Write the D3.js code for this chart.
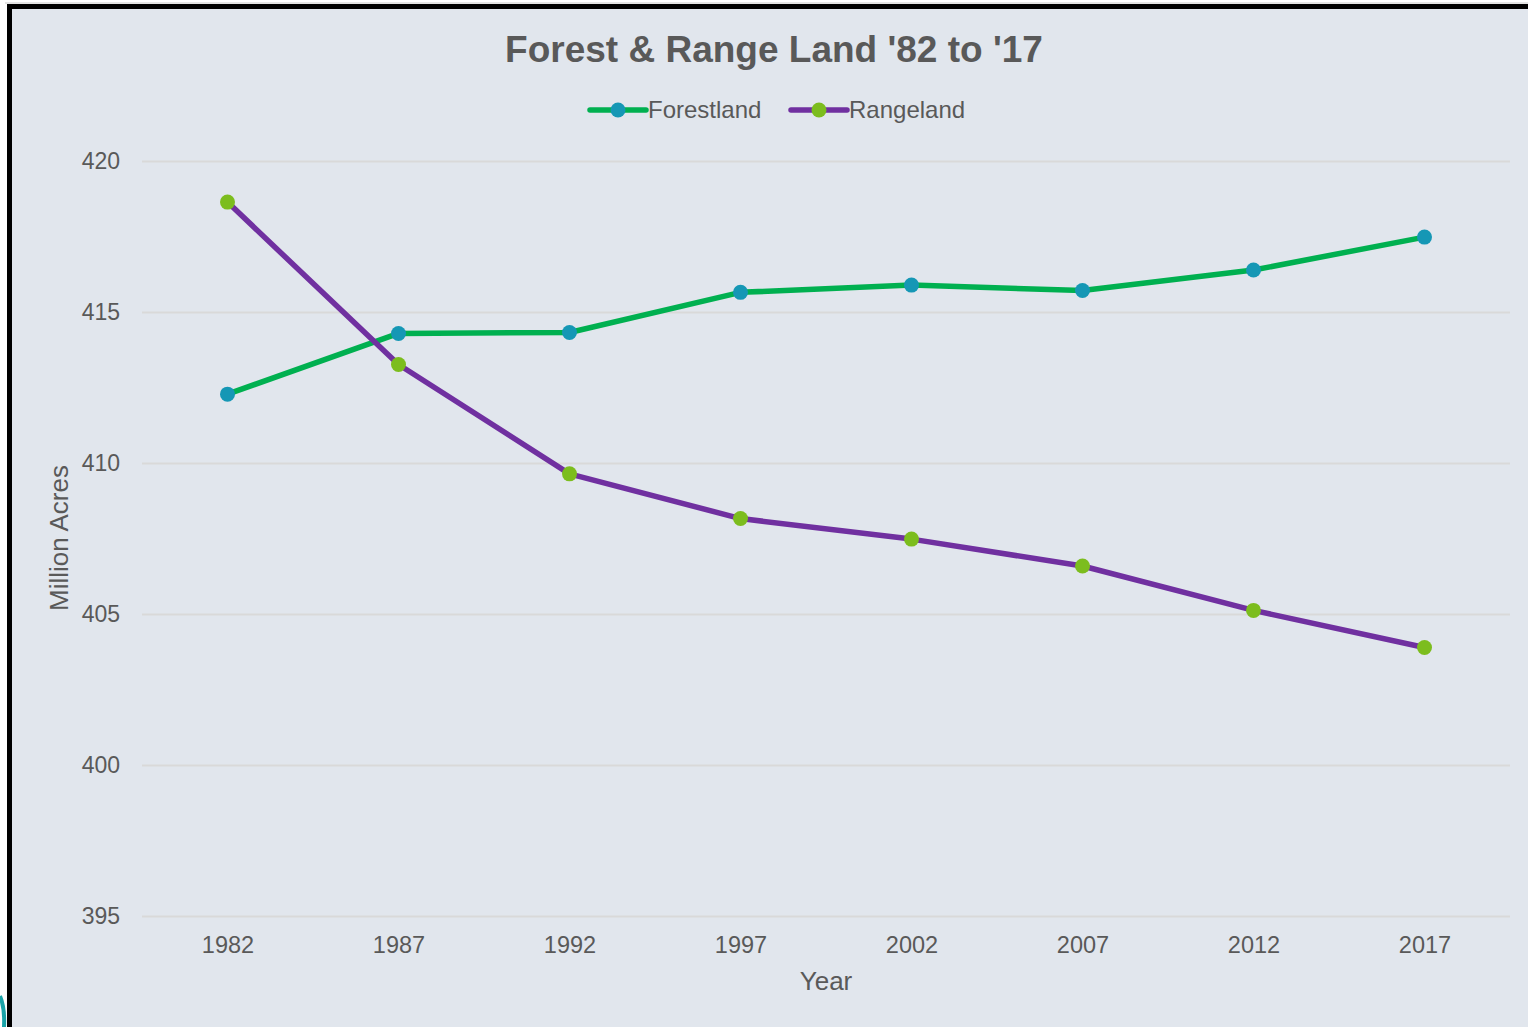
<!DOCTYPE html>
<html><head><meta charset="utf-8">
<script src="https://cdn.jsdelivr.net/npm/d3@7"></script>
<style>html,body{margin:0;padding:0;background:#fff;overflow:hidden}</style>
</head><body>
<svg id="c" width="1528" height="1027"></svg>
<script>
const years = ["1982","1987","1992","1997","2002","2007","2012","2017"];
const forestland = [412.28, 414.29, 414.32, 415.65, 415.89, 415.71, 416.39, 417.48];
const rangeland = [418.64, 413.26, 409.64, 408.16, 407.48, 406.59, 405.12, 403.89];
const yTicks = [395, 400, 405, 410, 415, 420];
const seriesNames = ["Forestland", "Rangeland"];

const W = 1528, H = 1027;
const font = "'Liberation Sans', Arial, sans-serif";
const txt = "#595959";
const svg = d3.select("#c");

// frame
svg.append("rect").attr("x",0).attr("y",0).attr("width",W).attr("height",H).attr("fill","#fff");
svg.append("line").attr("x1",5).attr("x2",W).attr("y1",3).attr("y2",3).attr("stroke","#c8c8c8").attr("stroke-width",1);
svg.append("rect").attr("x",7).attr("y",4).attr("width",W-7).attr("height",H-4).attr("fill","#000");
svg.append("rect").attr("x",12).attr("y",9).attr("width",W-12).attr("height",H-9).attr("fill","#e1e6ed");
svg.append("path").attr("d","M0,996 Q5,1008 4,1027").attr("fill","none").attr("stroke","#1aa3a8").attr("stroke-width",4);

const plot = {left:142, right:1510, top:161, bottom:916};
const x = d3.scalePoint().domain(years).range([plot.left, plot.right]).padding(0.5);
const y = d3.scaleLinear().domain([395, 420]).range([plot.bottom, plot.top]);

// grid
const yAxis = d3.axisLeft(y).tickValues(yTicks).tickSize(-(plot.right-plot.left)).tickPadding(22).tickFormat(d3.format("d"));
const gy = svg.append("g").attr("transform",`translate(${plot.left},0)`).call(yAxis);
gy.select(".domain").remove();
gy.selectAll(".tick line").attr("stroke","#d9d9d9").attr("stroke-width",2);
gy.selectAll(".tick text").attr("fill",txt).attr("font-family",font).attr("font-size","23px").attr("x",-22).attr("dy","0.33em");

const xAxis = d3.axisBottom(x).tickSize(0).tickPadding(0);
const gx = svg.append("g").attr("transform",`translate(0,${plot.bottom})`).call(xAxis);
gx.select(".domain").remove();
gx.selectAll(".tick text").attr("fill",txt).attr("font-family",font).attr("font-size","23.5px").attr("dy",null).attr("y",37);

// lines
const series = [
  {name: seriesNames[0], values: forestland, line:"#00b050", marker:"#1597b5"},
  {name: seriesNames[1], values: rangeland, line:"#7030a0", marker:"#7cbd1e"}
];
const lineGen = d3.line().x((d,i)=>x(years[i])).y(d=>y(d));
series.forEach(s=>{
  svg.append("path").datum(s.values).attr("d",lineGen).attr("fill","none")
    .attr("stroke",s.line).attr("stroke-width",5.5).attr("stroke-linejoin","round");
});
series.forEach(s=>{
  svg.append("g").selectAll("circle").data(s.values).join("circle")
    .attr("cx",(d,i)=>x(years[i])).attr("cy",d=>y(d)).attr("r",7.5).attr("fill",s.marker);
});

// title
svg.append("text").attr("x",774).attr("y",62).attr("text-anchor","middle")
  .attr("font-family",font).attr("font-weight","bold").attr("font-size","37px").attr("fill",txt)
  .text("Forest & Range Land '82 to '17");

// legend
const legX = [590, 791];
series.forEach((s,i)=>{
  const g = svg.append("g").attr("transform",`translate(${legX[i]},110)`);
  g.append("line").attr("x1",0).attr("x2",56).attr("y1",0).attr("y2",0).attr("stroke",s.line).attr("stroke-width",5.5).attr("stroke-linecap","round");
  g.append("circle").attr("cx",28).attr("cy",0).attr("r",7.5).attr("fill",s.marker);
  g.append("text").attr("x",58).attr("y",0).attr("dy","0.35em").attr("font-family",font).attr("font-size","24px").attr("fill",txt).text(s.name);
});

// axis titles
svg.append("text").attr("transform","translate(68,538) rotate(-90)").attr("text-anchor","middle")
  .attr("font-family",font).attr("font-size","26px").attr("fill",txt).text("Million Acres");
svg.append("text").attr("x",826).attr("y",990).attr("text-anchor","middle")
  .attr("font-family",font).attr("font-size","26px").attr("fill",txt).text("Year");
</script>
</body></html>
